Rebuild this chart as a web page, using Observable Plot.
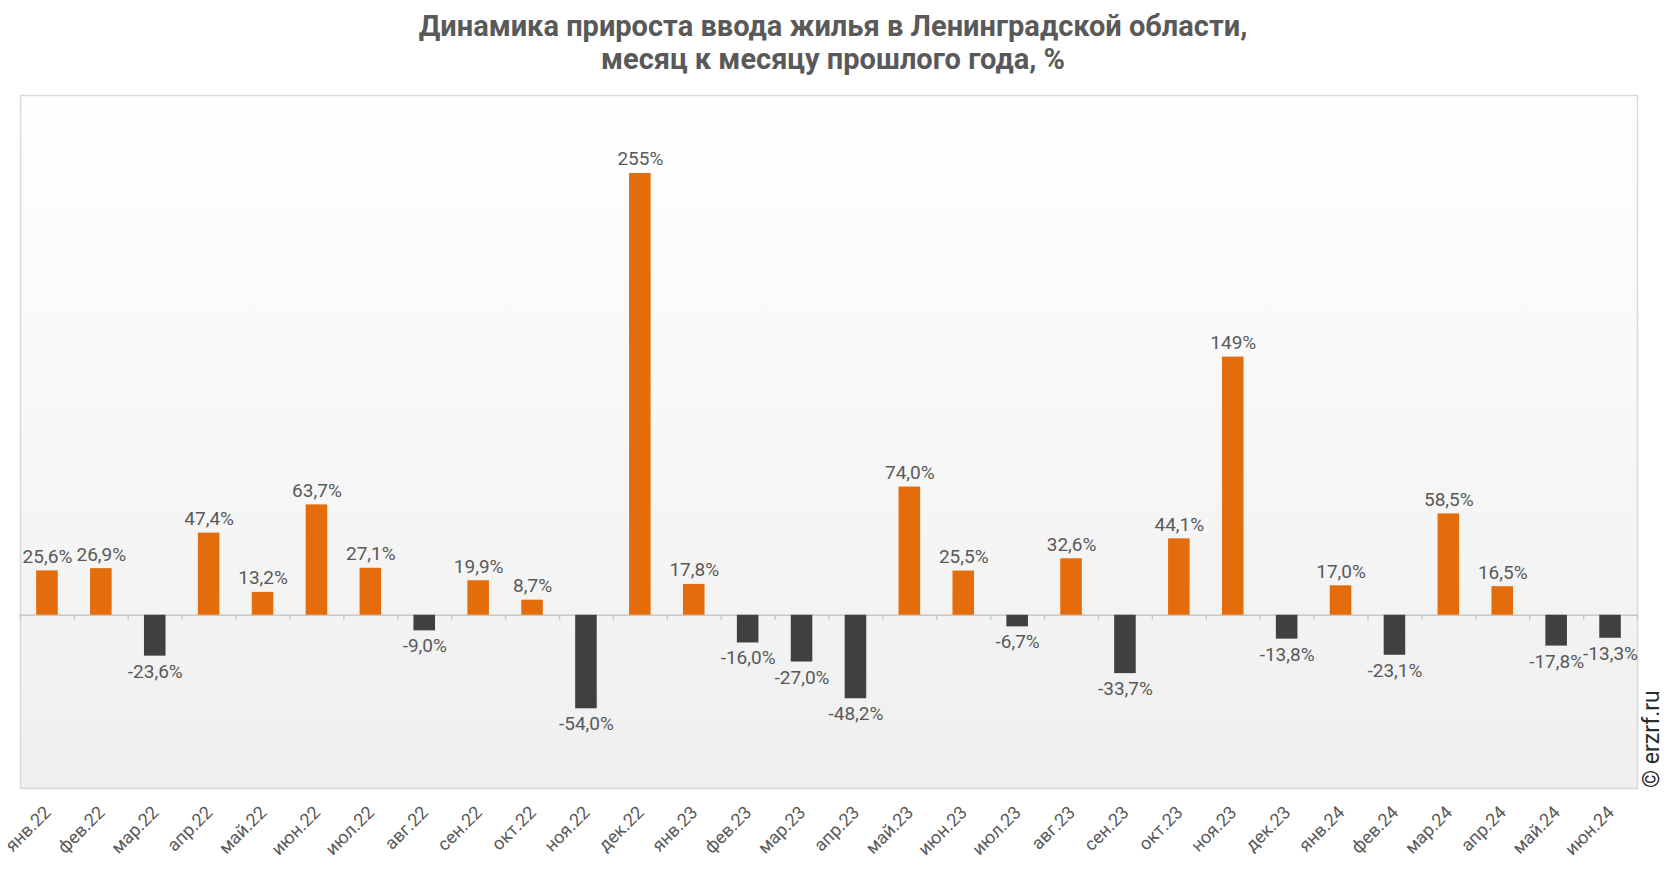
<!DOCTYPE html>
<html>
<head>
<meta charset="utf-8">
<script src="https://cdn.jsdelivr.net/npm/d3@7"></script>
<script src="https://cdn.jsdelivr.net/npm/@observablehq/plot@0.6"></script>
<style>
  html, body { margin: 0; padding: 0; background: #fff; }
  #wrap { position: relative; width: 1666px; height: 872px; font-family: Roboto, "Noto Sans", sans-serif; }
  #title { position: absolute; left: 0; top: 10px; width: 1666px; text-align: center; font-weight: 700; font-size: 29px; line-height: 33px; color: #595959; }
  #credit { position: absolute; left: 1641px; top: 788px; transform-origin: 0 0; transform: rotate(-90deg); white-space: nowrap; font-size: 23px; color: #2b2b2b; line-height: 22px; }
  svg { display: block; }
</style>
</head>
<body>
<div id="wrap">
  <div id="title">Динамика прироста ввода жилья в Ленинградской области,<br>месяц к месяцу прошлого года, %</div>
  <div id="chart"></div>
  <div id="credit">© erzrf.ru</div>
</div>
<script>
const months = ["янв.22","фев.22","мар.22","апр.22","май.22","июн.22","июл.22","авг.22","сен.22","окт.22","ноя.22","дек.22",
                "янв.23","фев.23","мар.23","апр.23","май.23","июн.23","июл.23","авг.23","сен.23","окт.23","ноя.23","дек.23",
                "янв.24","фев.24","мар.24","апр.24","май.24","июн.24"];
const values = [25.6, 26.9, -23.6, 47.4, 13.2, 63.7, 27.1, -9.0, 19.9, 8.7, -54.0, 255,
                17.8, -16.0, -27.0, -48.2, 74.0, 25.5, -6.7, 32.6, -33.7, 44.1, 149, -13.8,
                17.0, -23.1, 58.5, 16.5, -17.8, -13.3];
const yDomain = [-100, 300];

const data = months.map((m, i) => ({month: m, value: values[i]}));
const fmt = v => (Math.abs(v) >= 100 ? v.toFixed(0) : v.toFixed(1).replace(".", ",")) + "%";

const W = 1666, H = 872, ML = 20, MR = 29, MT = 95, MB = 84;
const step = (W - ML - MR) / months.length;
const barInset = step * 0.3;

const plot = Plot.plot({
  width: W, height: H,
  marginLeft: ML, marginRight: MR, marginTop: MT, marginBottom: MB,
  style: {fontFamily: "Roboto, sans-serif", background: "transparent", overflow: "visible"},
  x: {domain: months, padding: 0, round: false, axis: null},
  y: {domain: yDomain, axis: null},
  marks: [
    Plot.frame({fill: "url(#bgGrad)", stroke: "#d9d9d9", strokeWidth: 1.5}),
    Plot.ruleY([0], {stroke: "#c8c8c8", strokeWidth: 1.5}),
    Plot.ruleX(months, {x: d => d, y1: 0, y2: 0, insetBottom: -5, dx: -step / 2, stroke: "#c8c8c8", strokeWidth: 1.5}),
    Plot.ruleX(months.slice(-1), {x: d => d, y1: 0, y2: 0, insetBottom: -5, dx: step / 2, stroke: "#c8c8c8", strokeWidth: 1.5}),
    Plot.barY(data, {x: "month", y: "value", insetLeft: barInset, insetRight: barInset, fill: d => d.value >= 0 ? "#e46c0a" : "#404040"}),
    Plot.text(data.filter(d => d.value >= 0), {x: "month", y: "value", text: d => fmt(d.value), lineAnchor: "bottom", dy: -8, fontSize: 19, fill: "#595959"}),
    Plot.text(data.filter(d => d.value < 0), {x: "month", y: "value", text: d => fmt(d.value), lineAnchor: "top", dy: 8, fontSize: 19, fill: "#595959"}),
    Plot.text(months, {x: d => d, frameAnchor: "bottom", text: d => d, rotate: -45, textAnchor: "end", lineAnchor: "bottom", dx: 4.5, dy: 25, fontSize: 18, fill: "#595959"})
  ]
});

const svg = d3.select(plot);
const defs = svg.insert("defs", ":first-child");
const g = defs.append("linearGradient").attr("id", "bgGrad").attr("x1", 0).attr("y1", 0).attr("x2", 0).attr("y2", 1);
g.append("stop").attr("offset", "0%").attr("stop-color", "#ffffff");
g.append("stop").attr("offset", "100%").attr("stop-color", "#efefef");

document.getElementById("chart").appendChild(plot);
</script>
</body>
</html>
